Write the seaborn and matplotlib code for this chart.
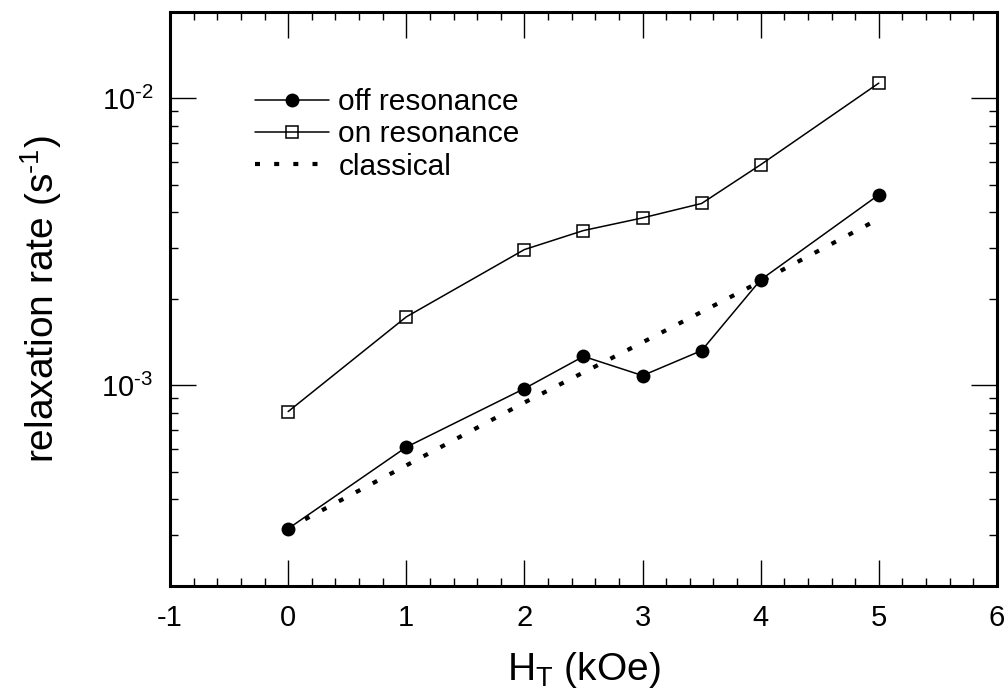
import numpy as np
import matplotlib
matplotlib.use("Agg")
import matplotlib.pyplot as plt
import matplotlib.ticker as mticker
import seaborn as sns

# field values (kOe)
field_off = [0, 1, 2, 2.5, 3, 3.5, 4, 5]
rate_off = [3.16e-4, 6.08e-4, 9.73e-4, 1.26e-3, 1.08e-3, 1.32e-3, 2.33e-3, 4.61e-3]

field_on = [0, 1, 2, 2.5, 3, 3.5, 4, 5]
rate_on = [8.09e-4, 1.73e-3, 2.97e-3, 3.46e-3, 3.83e-3, 4.30e-3, 5.87e-3, 1.13e-2]

field_cl = [0, 1, 2, 3, 4, 5]
rate_cl = [3.17e-4, 5.25e-4, 8.7e-4, 1.41e-3, 2.30e-3, 3.80e-3]

sns.set_theme(style="white")
plt.rcParams['font.family'] = ['Liberation Sans', 'DejaVu Sans']
plt.rcParams['mathtext.fontset'] = 'custom'
plt.rcParams['mathtext.rm'] = 'Liberation Sans'
plt.rcParams['mathtext.it'] = 'Liberation Sans:italic'
plt.rcParams['mathtext.default'] = 'regular'
plt.rcParams['axes.unicode_minus'] = False
plt.rcParams['text.color'] = 'black'
plt.rcParams['axes.labelcolor'] = 'black'

fig = plt.figure(figsize=(10.06, 6.89), dpi=100)
ax = fig.add_axes([0.169, 0.150, 0.822, 0.8326])

sns.lineplot(x=field_off, y=rate_off, ax=ax, color='black', lw=1.1,
             marker='o', markersize=10, markeredgewidth=0, label='off resonance')
sns.lineplot(x=field_on, y=rate_on, ax=ax, color='black', lw=1.1,
             marker='s', markersize=9.2, markerfacecolor='none',
             markeredgecolor='black', markeredgewidth=1.1, label='on resonance')
sns.lineplot(x=field_cl, y=rate_cl, ax=ax, color='black', lw=3.0,
             linestyle=(0, (1.2, 3.4)), dash_capstyle='butt', label='classical')

ax.set_yscale('log')
ax.set_xlim(-1, 6)
ax.set_ylim(2e-4, 2e-2)

ax.xaxis.set_major_locator(mticker.MultipleLocator(1))
ax.xaxis.set_minor_locator(mticker.MultipleLocator(0.2))
ax.yaxis.set_major_locator(mticker.LogLocator(base=10))
ax.yaxis.set_minor_locator(mticker.LogLocator(base=10, subs=np.arange(2, 10)))
ax.yaxis.set_minor_formatter(mticker.NullFormatter())
ax.yaxis.set_major_formatter(mticker.FuncFormatter(
    lambda v, pos: r'10$^{\text{-%d}}$' % round(-np.log10(v))))

ax.tick_params(which='both', direction='in', top=True, right=True,
               bottom=True, left=True, colors='black')
ax.tick_params(axis='x', which='major', length=19, width=1, labelsize=21, pad=13)
ax.tick_params(axis='x', which='minor', length=5.5, width=1)
ax.tick_params(axis='y', which='major', length=19, width=1, labelsize=21, pad=12)
ax.tick_params(axis='y', which='minor', length=5.5, width=1)

for sp in ax.spines.values():
    sp.set_linewidth(2.2)
    sp.set_color('black')

ax.set_xlabel(r'H$_{T}$ (kOe)', fontsize=28, labelpad=13)
ax.set_ylabel(r'relaxation rate (s$^{\text{-1}}$)', fontsize=28, labelpad=27)

leg = ax.legend(loc='upper left', bbox_to_anchor=(0.088, 0.888), frameon=False,
                fontsize=21.5, handlelength=2.5, handletextpad=0.3,
                labelspacing=0.14, borderaxespad=0)

fig.savefig('out.png', dpi=100)
